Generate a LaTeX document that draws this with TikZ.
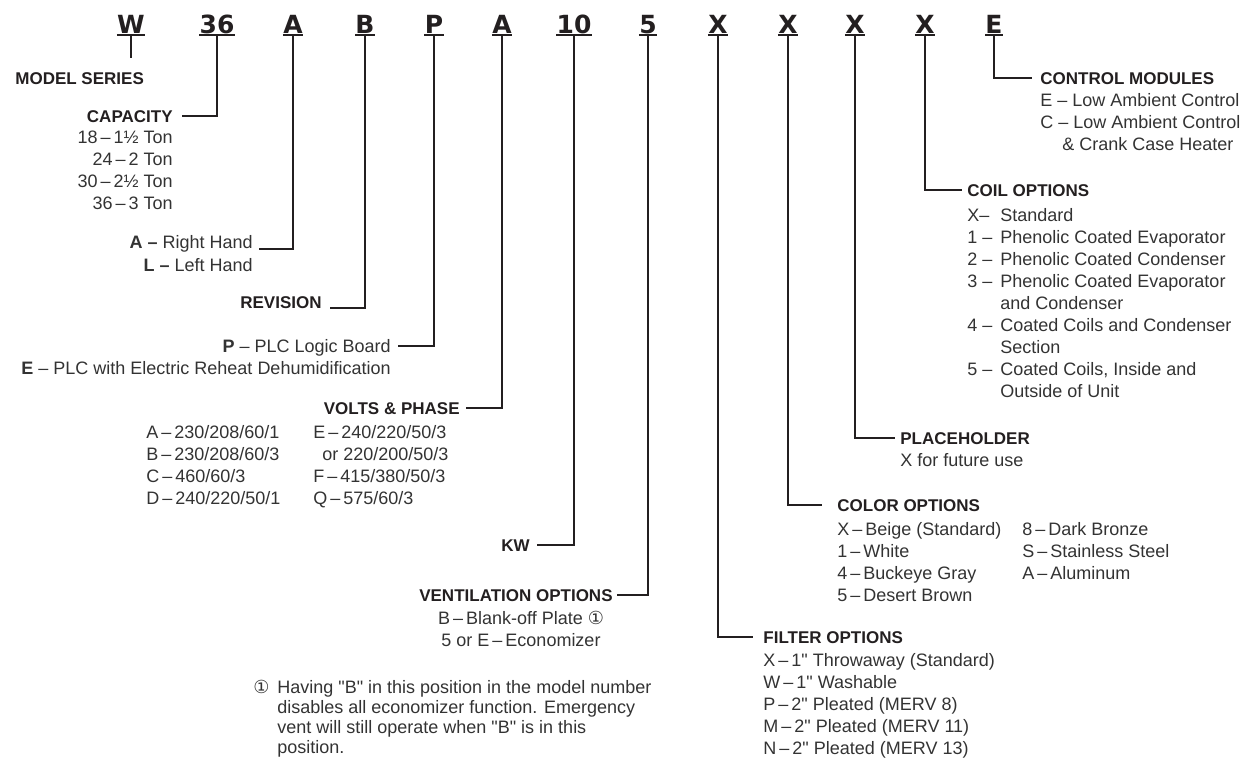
\documentclass[tikz,border=0pt]{standalone}
\usepackage{fontspec}
\setmainfont{Liberation Sans}[Ligatures=TeXOff]
\newfontfamily\codefam{DejaVu Sans}
\usetikzlibrary{positioning}
\definecolor{ink}{HTML}{231F20}
\definecolor{txt}{HTML}{333333}
\newcommand{\itm}[1]{\makebox[16.5pt][l]{#1}}
\begin{document}
\begin{tikzpicture}[x=0.5pt,y=-0.5pt,
    code/.style={font=\codefam\bfseries\fontsize{12.5}{15}\selectfont, text=ink, inner xsep=0pt, inner ysep=1pt, text depth=0pt, anchor=base},
    head/.style={font=\bfseries\fontsize{8.5}{11}\selectfont, text=ink, inner sep=0pt, text height=6.1pt, text depth=0pt},
    row/.style={font=\fontsize{9}{11}\selectfont, text=txt, inner sep=0pt, text height=6.5pt, text depth=0pt},
    list/.style={font=\fontsize{9}{11}\selectfont, text=txt, inner sep=0pt, align=left},
    lead/.style={draw=ink, line width=1pt}]
    \useasboundingbox (0,0) rectangle (1248,761);
    % model number letters
    \foreach \n/\t/\x in {W/W/131,36/36/217,A/A/293,B/B/365,P/P/434,V/A/502,K/10/574,N/5/648,F/X/718,C/X/788,H/X/855,O/X/925,M/E/994}{
        \node[code] (c\n) at (\x,33) {\t};
        \draw[lead] (c\n.south west) -- (c\n.south east);
    }
    % left side
    \node[head,anchor=west] (series) at (15,78) {MODEL SERIES};
    \coordinate (seriesTop) at (131,58);
    \draw[lead] (cW.south) -- (seriesTop);
    \node[head,anchor=east] (cap) at (173,116) {CAPACITY};
    \node[list,align=right,below=4pt of cap.south east,anchor=north east] (capList) {18\,–\,1½ Ton\\24\,–\,2 Ton\\30\,–\,2½ Ton\\36\,–\,3 Ton};
    \draw[lead,shorten >=4.5pt] (c36.south) |- (cap.east);
    \node[row,anchor=east] (hand) at (253,242) {\textbf{A –} Right Hand};
    \node[row,below=4.5pt of hand.south east,anchor=north east] (left) {\textbf{L –} Left Hand};
    \draw[lead,shorten >=3pt] (cA.south) |- (hand.base east);
    \node[head,anchor=east] (rev) at (322,302) {REVISION};
    \draw[lead,shorten >=4pt] (cB.south) |- (rev.base east);
    \node[row,anchor=east] (plc) at (391,346) {\textbf{P} – PLC Logic Board};
    \node[row,below=4pt of plc.south east,anchor=north east] (reheat) {\textbf{E} – PLC with Electric Reheat Dehumidification};
    \draw[lead,shorten >=3.5pt] (cP.south) |- (plc.east);
    \node[head,anchor=east] (volts) at (460,408) {VOLTS \& PHASE};
    \draw[lead,shorten >=3pt] (cV.south) |- (volts.east);
    \node[list,anchor=north west] (voltsA) at (146,425.5) {A\,–\,230/208/60/1\\B\,–\,230/208/60/3\\C\,–\,460/60/3\\D\,–\,240/220/50/1};
    \node[list,anchor=north west] (voltsE) at (313,425.5) {E\,–\,240/220/50/3\\\hspace{4.5pt}or 220/200/50/3\\F\,–\,415/380/50/3\\Q\,–\,575/60/3};
    \node[head,anchor=east] (kw) at (530,545) {KW};
    \draw[lead,shorten >=3.5pt] (cK.south) |- (kw.east);
    \node[head,anchor=east] (vent) at (613,595) {VENTILATION OPTIONS};
    \draw[lead,shorten >=2pt] (cN.south) |- (vent.east);
    \node[list,align=center,anchor=north] (ventList) at (521,610.5) {B\,–\,Blank-off Plate {\codefam ①}\\5 or E\,–\,Economizer};
    % footnote
    \node[row,anchor=west] (mark) at (253,687) {{\codefam ①}};
    \node[list,font=\fontsize{9}{10}\selectfont,anchor=north west] (note) at (277,680.5) {Having "B" in this position in the model number\\disables all economizer function. Emergency\\vent will still operate when "B" is in this\\position.};
    % right side
    \node[head,anchor=west] (filter) at (763,637) {FILTER OPTIONS};
    \draw[lead,shorten >=5pt] (cF.south) |- (filter.west);
    \node[list,below=5pt of filter.south west,anchor=north west] (filterList) {X\,–\,1" Throwaway (Standard)\\W\,–\,1" Washable\\P\,–\,2" Pleated (MERV 8)\\M\,–\,2" Pleated (MERV 11)\\N\,–\,2" Pleated (MERV 13)};
    \node[head,anchor=west] (color) at (837,505) {COLOR OPTIONS};
    \draw[lead,shorten >=7.5pt] (cC.south) |- (color.west);
    \node[list,below=5.5pt of color.south west,anchor=north west] (colorA) {X\,–\,Beige (Standard)\\1\,–\,White\\4\,–\,Buckeye Gray\\5\,–\,Desert Brown};
    \node[list,anchor=north west] (colorB) at (1022,522.5) {8\,–\,Dark Bronze\\S\,–\,Stainless Steel\\A\,–\,Aluminum};
    \node[head,anchor=west] (holder) at (900,438) {PLACEHOLDER};
    \draw[lead,shorten >=2.5pt] (cH.south) |- (holder.west);
    \node[list,below=4.5pt of holder.south west,anchor=north west] (holderList) {X for future use};
    \node[head,anchor=west] (coil) at (967,190) {COIL OPTIONS};
    \draw[lead,shorten >=2.5pt] (cO.south) |- (coil.west);
    \node[list,below=6pt of coil.south west,anchor=north west] (coilList) {\itm{X–}Standard\\\itm{1 –}Phenolic Coated Evaporator\\\itm{2 –}Phenolic Coated Condenser\\\itm{3 –}Phenolic Coated Evaporator\\\itm{}and Condenser\\\itm{4 –}Coated Coils and Condenser\\\itm{}Section\\\itm{5 –}Coated Coils, Inside and\\\itm{}Outside of Unit};
    \node[head,anchor=west] (ctrl) at (1040,78) {CONTROL MODULES};
    \draw[lead,shorten >=4pt] (cM.south) |- (ctrl.west);
    \node[list,below=4.5pt of ctrl.south west,anchor=north west] (ctrlList) {E – Low Ambient Control\\C – Low Ambient Control\\\hspace{11pt}\& Crank Case Heater};
\end{tikzpicture}
\end{document}
